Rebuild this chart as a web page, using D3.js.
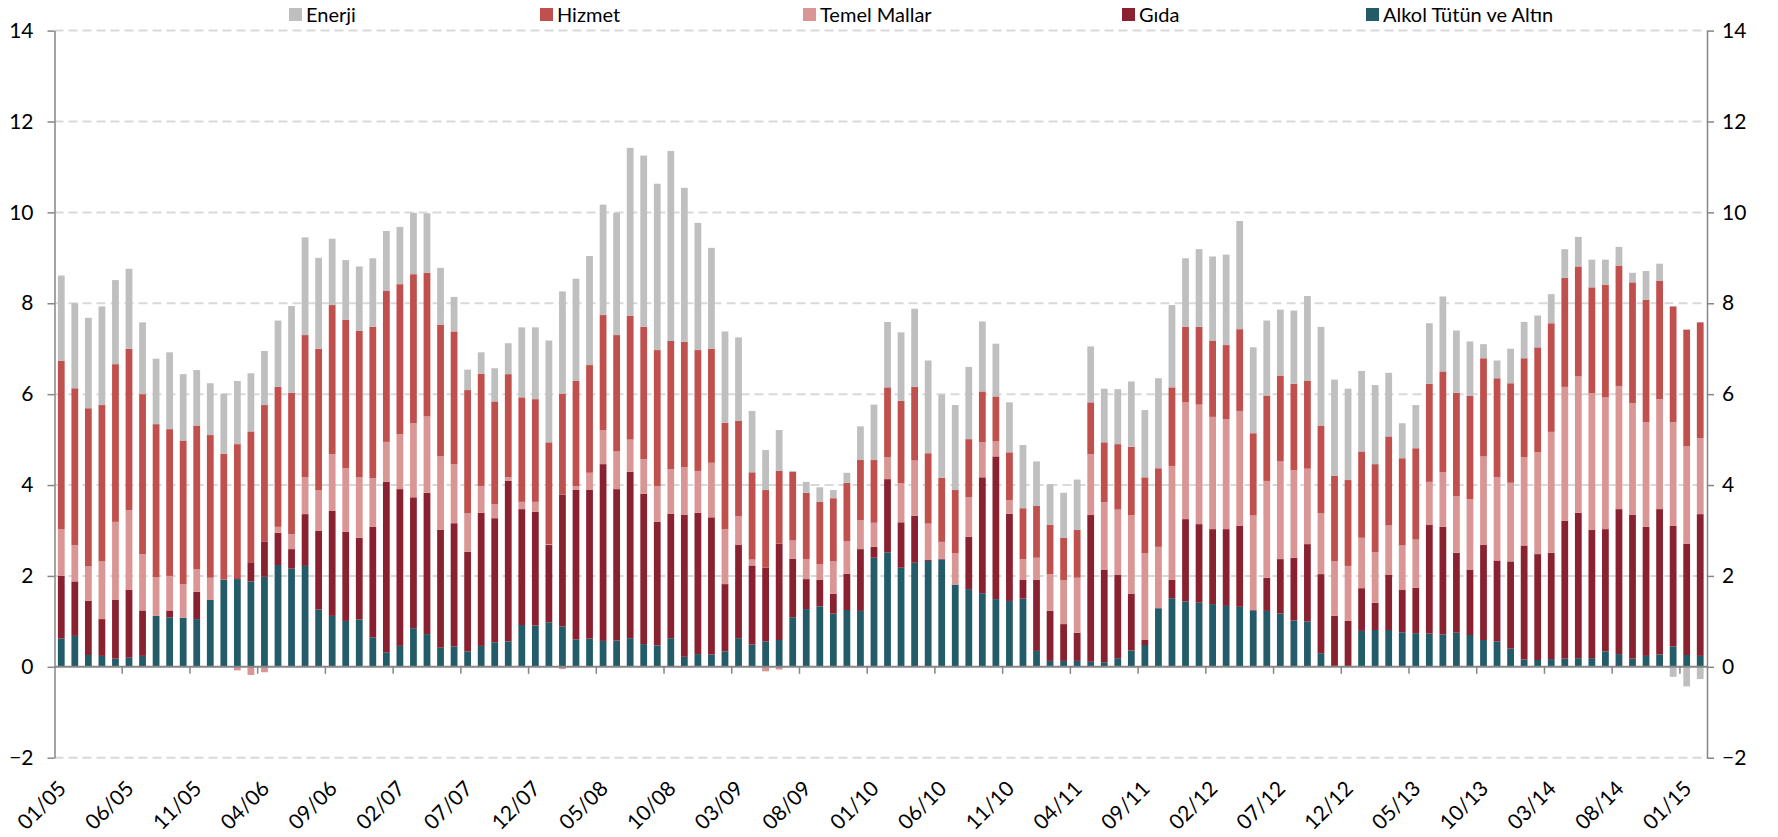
<!DOCTYPE html>
<html>
<head>
<meta charset="utf-8">
<script src="https://cdn.jsdelivr.net/npm/d3@7"></script>
<style>
  body { margin: 0; background: #fff; }
  text { font-family: Lato, "Open Sans", sans-serif; fill: #000; }
</style>
</head>
<body>
<script>
'use strict';

// series values, monthly 01/05 .. 02/15
const alkol = [
  0.62,0.68,0.26,0.24,0.18,0.20,0.24,1.12,1.09,1.08,1.05,1.47,
  1.92,1.93,1.88,1.98,2.24,2.16,2.22,1.26,1.12,1.01,1.04,0.65,
  0.32,0.46,0.85,0.72,0.42,0.45,0.34,0.46,0.54,0.56,0.92,0.91,
  0.98,0.89,0.60,0.62,0.57,0.58,0.63,0.50,0.47,0.63,0.22,0.28,
  0.27,0.34,0.63,0.49,0.56,0.59,1.09,1.27,1.33,1.17,1.25,1.23,
  2.40,2.52,2.18,2.29,2.33,2.36,1.81,1.71,1.62,1.49,1.45,1.50,
  0.35,0.13,0.13,0.13,0.11,0.10,0.19,0.36,0.48,1.29,1.51,1.44,
  1.41,1.38,1.34,1.32,1.24,1.23,1.17,1.02,1.00,0.30,0.02,0.02,
  0.79,0.81,0.81,0.76,0.74,0.73,0.71,0.75,0.70,0.59,0.56,0.40,
  0.16,0.15,0.17,0.18,0.19,0.19,0.34,0.28,0.18,0.24,0.27,0.45,
  0.26,0.24
];
const gida = [
  1.38,1.20,1.19,0.81,1.29,1.49,1.00,0.00,0.15,0.00,0.60,0.00,
  0.00,0.02,0.42,0.78,0.71,0.43,1.14,1.73,2.31,1.96,1.80,2.43,
  3.75,3.45,2.88,3.11,2.60,2.71,2.19,2.93,2.73,3.53,2.55,2.50,
  1.70,2.90,3.30,3.28,3.89,3.33,3.66,3.31,2.72,2.74,3.13,3.11,
  3.02,1.48,2.05,1.74,1.62,2.12,1.29,0.66,0.58,0.44,0.80,1.36,
  0.24,1.61,1.00,1.03,0.03,0.02,0.00,1.15,2.55,3.14,1.92,0.42,
  1.56,1.10,0.81,0.62,3.23,2.04,1.83,1.25,0.11,0.00,0.40,1.81,
  1.73,1.65,1.69,1.78,0.01,0.73,1.20,1.38,1.70,1.74,1.10,0.99,
  0.94,0.60,1.22,0.93,1.00,2.39,2.37,1.76,1.44,2.09,1.78,1.92,
  2.51,2.33,2.34,3.03,3.20,2.82,2.69,3.19,3.17,2.84,3.20,2.65,
  2.45,3.12
];
const temel = [
  1.03,0.80,0.76,1.27,1.72,1.76,1.24,0.85,0.76,0.74,0.50,0.49,
  0.00,-0.08,-0.18,-0.12,0.13,0.33,0.81,0.90,1.25,1.40,1.33,1.07,
  0.88,1.21,1.63,1.68,1.61,1.30,0.85,0.59,0.31,0.08,0.16,0.22,
  0.02,-0.05,0.08,0.37,0.75,0.83,0.71,0.76,0.79,0.98,1.04,0.92,
  1.20,1.21,0.63,0.13,-0.10,-0.06,0.40,0.44,0.35,0.71,0.71,0.64,
  0.53,0.48,0.86,1.22,0.79,0.37,0.69,0.87,0.77,0.33,0.30,0.45,
  0.49,0.81,0.97,1.21,1.34,1.48,1.44,1.73,1.91,1.35,2.51,2.57,
  2.63,2.47,2.42,2.53,2.08,2.13,2.15,1.93,1.66,1.34,1.20,1.21,
  1.11,1.11,1.08,0.98,1.06,0.95,1.20,1.24,1.55,1.95,1.83,1.73,
  1.94,2.24,2.66,2.95,3.00,3.01,2.90,2.71,2.45,2.30,2.42,2.28,
  2.14,1.67
];
const hizmet = [
  3.70,3.45,3.48,3.44,3.47,3.55,3.52,3.37,3.23,3.16,3.16,3.14,
  2.77,2.95,2.88,3.00,3.08,3.11,3.13,3.11,3.28,3.27,3.22,3.33,
  3.32,3.30,3.28,3.16,2.90,2.92,2.71,2.47,2.26,2.27,2.30,2.26,
  2.24,2.22,2.31,2.37,2.53,2.56,2.72,2.91,2.99,2.82,2.76,2.66,
  2.51,2.34,2.10,1.92,1.71,1.60,1.51,1.46,1.37,1.39,1.29,1.32,
  1.38,1.54,1.81,1.62,1.55,1.41,1.39,1.28,1.12,0.99,1.05,1.12,
  1.14,1.08,0.93,1.05,1.14,1.32,1.44,1.50,1.67,1.73,1.73,1.66,
  1.71,1.68,1.63,1.80,1.81,1.88,1.89,1.90,1.93,1.93,1.88,1.89,
  1.90,1.94,1.96,1.92,2.01,2.16,2.22,2.28,2.27,2.16,2.18,2.19,
  2.18,2.31,2.39,2.40,2.42,2.33,2.48,2.65,2.66,2.70,2.60,2.55,
  2.57,2.55
];
const enerji = [
  1.88,1.87,1.99,2.17,1.85,1.76,1.58,1.44,1.69,1.46,1.22,1.14,
  1.32,1.39,1.28,1.19,1.46,1.91,2.15,2.00,1.46,1.31,1.42,1.51,
  1.32,1.26,1.35,1.31,1.25,0.76,0.45,0.47,0.73,0.68,1.54,1.58,
  2.24,2.25,2.25,2.40,2.43,2.69,3.70,3.77,3.66,4.18,3.39,2.80,
  2.22,2.01,1.84,1.35,0.88,0.90,0.02,0.24,0.32,0.18,0.22,0.74,
  1.22,1.44,1.51,1.72,2.04,1.83,1.87,1.59,1.54,1.16,1.10,1.39,
  0.98,0.90,0.99,1.11,1.23,1.18,1.21,1.44,1.48,1.98,1.81,1.51,
  1.71,1.85,1.99,2.38,1.89,1.65,1.45,1.61,1.87,2.17,2.12,2.01,
  1.77,1.74,1.40,0.77,0.95,1.33,1.65,1.37,1.20,0.31,0.39,0.76,
  0.80,0.70,0.64,0.63,0.65,0.61,0.55,0.41,0.21,0.63,0.38,-0.22,
  -0.43,-0.27
];

// categories and tick labels
const months = d3.timeMonth.range(new Date(2005, 0, 1), new Date(2015, 2, 1)).map(d3.timeFormat("%m/%y"));
const tickLabels = ["01/05","06/05","11/05","04/06","09/06","02/07","07/07","12/07","05/08",
  "10/08","03/09","08/09","01/10","06/10","11/10","04/11","09/11","02/12","07/12","12/12",
  "05/13","10/13","03/14","08/14","01/15"];
const yTicks = [-2, 0, 2, 4, 6, 8, 10, 12, 14];

// stacking order bottom -> top, legend order left -> right
const keys = ["Alkol Tütün ve Altın", "Gıda", "Temel Mallar", "Hizmet", "Enerji"];
const legendKeys = ["Enerji", "Hizmet", "Temel Mallar", "Gıda", "Alkol Tütün ve Altın"];
const colors = {
  "Enerji": "#bfbfbf",
  "Hizmet": "#c0504d",
  "Temel Mallar": "#d99694",
  "Gıda": "#8a2131",
  "Alkol Tütün ve Altın": "#235b68"
};

const W = 1778, H = 837;
const plotLeft = 54.5, plotRight = 1707, plotTop = 30.6, plotBottom = 757.7;

const table = months.map((m, i) => ({
  month: m,
  "Alkol Tütün ve Altın": alkol[i],
  "Gıda": gida[i],
  "Temel Mallar": temel[i],
  "Hizmet": hizmet[i],
  "Enerji": enerji[i]
}));

const svg = d3.select("body").append("svg")
  .attr("width", W)
  .attr("height", H);

const x = d3.scaleBand()
  .domain(months)
  .range([plotLeft, plotRight])
  .paddingInner(0.5)
  .paddingOuter(0.25);

const y = d3.scaleLinear()
  .domain([-2, 14])
  .range([plotBottom, plotTop]);

// dashed gridlines
svg.append("g")
  .selectAll("line")
  .data(yTicks.filter(v => v !== 0))
  .enter()
  .append("line")
    .attr("x1", plotLeft)
    .attr("x2", plotRight)
    .attr("y1", d => y(d))
    .attr("y2", d => y(d))
    .attr("stroke", "#d9d9d9")
    .attr("stroke-width", 2)
    .attr("stroke-dasharray", "9,5");

// stacked bars (negatives go below zero)
const stacked = d3.stack()
  .keys(keys)
  .offset(d3.stackOffsetDiverging)(table);

svg.append("g")
  .selectAll("g")
  .data(stacked)
  .enter()
  .append("g")
    .attr("fill", s => colors[s.key])
  .selectAll("rect")
  .data(s => s)
  .enter()
  .append("rect")
    .attr("x", d => x(d.data.month))
    .attr("width", x.bandwidth())
    .attr("y", d => y(Math.max(d[0], d[1])))
    .attr("height", d => Math.abs(y(d[0]) - y(d[1])));

// left and right value axes
const yLeft = d3.axisLeft(y).tickValues(yTicks).tickSize(7).tickSizeOuter(0).tickPadding(14);
const yRight = d3.axisRight(y).tickValues(yTicks).tickSize(7).tickSizeOuter(0).tickPadding(8);

const gl = svg.append("g").attr("transform", `translate(${plotLeft},0)`).call(yLeft);
const gr = svg.append("g").attr("transform", `translate(${plotRight},0)`).call(yRight);
[gl, gr].forEach(g => {
  g.select(".domain").attr("stroke", "#868686").attr("stroke-width", 1.5);
  g.selectAll(".tick line").attr("stroke", "#868686").attr("stroke-width", 1.5);
  g.selectAll(".tick text")
    .attr("font-size", 21)
    .attr("font-family", "Lato, 'Open Sans', sans-serif")
    .attr("fill", "#000");
});

// category axis along zero
svg.append("line")
  .attr("x1", plotLeft)
  .attr("x2", plotRight)
  .attr("y1", y(0))
  .attr("y2", y(0))
  .attr("stroke", "#868686")
  .attr("stroke-width", 2);

const step = x.step();
svg.append("g")
  .selectAll("line")
  .data(months.filter((m, i) => i > 0 && i % 5 === 0))
  .enter()
  .append("line")
    .attr("x1", d => x(d) - step * 0.25)
    .attr("x2", d => x(d) - step * 0.25)
    .attr("y1", y(0))
    .attr("y2", y(0) + 7)
    .attr("stroke", "#868686")
    .attr("stroke-width", 1.5);

// rotated month labels at the bottom
svg.append("g")
  .selectAll("text")
  .data(tickLabels)
  .enter()
  .append("text")
    .attr("transform", d => `translate(${x(d) + x.bandwidth() / 2 + 1},${plotBottom + 27}) rotate(-45)`)
    .attr("text-anchor", "end")
    .attr("dy", "0.35em")
    .attr("font-size", 21)
    .text(d => d);

// legend
const legendX = [289, 540, 803, 1122, 1366];
const legend = svg.append("g")
  .selectAll("g")
  .data(legendKeys)
  .enter()
  .append("g")
    .attr("transform", (d, i) => `translate(${legendX[i]},0)`);
legend.append("rect")
  .attr("x", 0)
  .attr("y", 8)
  .attr("width", 13)
  .attr("height", 13)
  .attr("fill", d => colors[d]);
legend.append("text")
  .attr("x", 17)
  .attr("y", 15)
  .attr("dy", "0.35em")
  .attr("font-size", 20)
  .text(d => d);
</script>
</body>
</html>
